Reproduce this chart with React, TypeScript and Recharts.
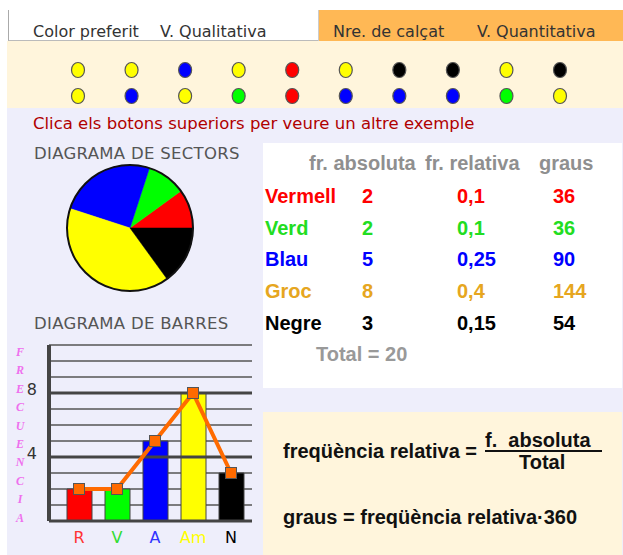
import React from 'react';
import {
  PieChart,
  Pie,
  Cell,
  ComposedChart,
  Bar,
  Line,
  XAxis,
  YAxis,
  CartesianGrid,
  ReferenceLine,
  ScatterChart,
  Scatter,
} from 'recharts';

// categories and values
const colorNames = ['Vermell', 'Verd', 'Blau', 'Groc', 'Negre'];
const shortLabels = ['R', 'V', 'A', 'Am', 'N'];
const absFreq = [2, 2, 5, 8, 3];
const relFreq = ['0,1', '0,1', '0,25', '0,4', '0,15'];
const degrees = [36, 36, 90, 144, 54];

// the 20 answers shown as dots (two rows of ten)
const topRow = ['Groc', 'Groc', 'Blau', 'Groc', 'Vermell', 'Groc', 'Negre', 'Negre', 'Groc', 'Negre'];
const bottomRow = ['Groc', 'Blau', 'Groc', 'Verd', 'Vermell', 'Blau', 'Blau', 'Blau', 'Verd', 'Groc'];

// axis ticks
const yTicks = [0, 1, 2, 3, 4, 5, 6, 7, 8, 9, 10, 11];
const yLabelTicks = [4, 8];
const yTitle = 'FRECUENCIA';

const fillColors = ['#ff0000', '#00ff00', '#0000ff', '#ffff00', '#000000'];
const textColors = ['#ff0000', '#22dd22', '#0000ff', '#e6a620', '#000000'];
const tickColors = ['#ff3333', '#33dd33', '#3333ff', '#ffff00', '#000000'];

const SANS = '"DejaVu Sans", Verdana, sans-serif';
const ARIAL = '"Liberation Sans", Arial, sans-serif';

const T: React.FC<{ x: number; y: number; style?: React.CSSProperties; children: React.ReactNode }> = ({ x, y, style, children }) => (
  <div style={{ position: 'absolute', left: x, top: y - 12, height: 24, lineHeight: '24px', whiteSpace: 'pre', ...style }}>
    {children}
  </div>
);

const XTick = (props: any) => {
  const { x, y, payload } = props;
  const i = shortLabels.indexOf(payload.value);
  return (
    <text x={x} y={y + 8} dy="0.35em" textAnchor="middle" fill={tickColors[i]} fontSize={16} fontFamily={SANS}>
      {payload.value}
    </text>
  );
};

const YTick = (props: any) => {
  const { x, y, payload } = props;
  if (!yLabelTicks.includes(payload.value)) return <g />;
  return (
    <text x={x - 4} y={y - 4} dy="0.35em" textAnchor="end" fill="#333" fontSize={16} fontFamily={SANS}>
      {payload.value}
    </text>
  );
};

const SquareDot = (props: any) => {
  const { cx, cy, index } = props;
  return <rect key={index} x={cx - 5.5} y={cy - 5.5} width={11} height={11} fill="#ff6a00" stroke="#555" strokeWidth={1} />;
};

const DotShape = (props: any) => {
  const { cx, cy, payload } = props;
  const c = fillColors[colorNames.indexOf(payload.color)];
  return <ellipse cx={cx} cy={cy} rx={6.5} ry={7.5} fill={c} stroke="#555" strokeWidth={1.2} />;
};

const App: React.FC = () => {
  const barData = shortLabels.map((label, i) => ({ label, value: absFreq[i] }));
  const pieData = colorNames.map((name, i) => ({ name, value: degrees[i] }));
  const dotData = [
    ...topRow.map((color, i) => ({ col: i, row: 0, color })),
    ...bottomRow.map((color, i) => ({ col: i, row: 1, color })),
  ];
  const total = absFreq.reduce((a, b) => a + b, 0);

  return (
    <div style={{ position: 'absolute', left: 0, top: 0, width: 623, height: 555, background: '#fff', overflow: 'hidden', fontFamily: SANS }}>
      {/* tabs */}
      <div style={{ position: 'absolute', left: 8, top: 10, width: 310, height: 30, borderLeft: '1px solid #aaa', borderBottom: '1px solid #bbb' }} />
      <div style={{ position: 'absolute', left: 318, top: 10, width: 305, height: 31, background: '#ffb855', borderLeft: '1px solid #ccc' }} />
      <T x={33} y={32} style={{ fontSize: 16, color: '#333' }}>Color preferit</T>
      <T x={160} y={32} style={{ fontSize: 16, color: '#333' }}>V. Qualitativa</T>
      <T x={333} y={32} style={{ fontSize: 16, color: '#333' }}>Nre. de calçat</T>
      <T x={477} y={32} style={{ fontSize: 16, color: '#333' }}>V. Quantitativa</T>

      {/* cream panel with dots */}
      <div style={{ position: 'absolute', left: 7, top: 41, width: 616, height: 67, background: '#fff5dc' }}>
        <ScatterChart width={616} height={67} margin={{ top: 29, bottom: 12, left: 71, right: 63 }}>
          <XAxis type="number" dataKey="col" domain={[0, 9]} hide />
          <YAxis type="number" dataKey="row" domain={[0, 1]} reversed hide />
          <Scatter data={dotData} shape={DotShape} isAnimationActive={false} />
        </ScatterChart>
      </div>

      {/* lavender area */}
      <div style={{ position: 'absolute', left: 7, top: 108, width: 616, height: 447, background: '#eeeefb' }} />
      <T x={33} y={124} style={{ fontSize: 16.5, color: '#b00000' }}>Clica els botons superiors per veure un altre exemple</T>
      <T x={34} y={154} style={{ fontSize: 16.5, color: '#555', letterSpacing: 0.3, fontWeight: 500 }}>DIAGRAMA DE SECTORS</T>
      <T x={34} y={324} style={{ fontSize: 16.5, color: '#555', letterSpacing: 0.3, fontWeight: 500 }}>DIAGRAMA DE BARRES</T>

      {/* pie */}
      <div style={{ position: 'absolute', left: 60, top: 158 }}>
        <PieChart width={140} height={140} margin={{ top: 0, right: 0, bottom: 0, left: 0 }}>
          <Pie data={pieData} dataKey="value" cx={70} cy={70} outerRadius={63} startAngle={0} endAngle={360} isAnimationActive={false}>
            {pieData.map((d, i) => (
              <Cell key={d.name} fill={fillColors[i]} stroke={fillColors[i]} strokeWidth={0.5} />
            ))}
          </Pie>
          <Pie data={[{ value: total }]} dataKey="value" cx={70} cy={70} innerRadius={62} outerRadius={64} fill="#111" stroke="none" isAnimationActive={false} />
        </PieChart>
      </div>

      {/* bars */}
      <div style={{ position: 'absolute', left: 0, top: 330 }}>
        <ComposedChart width={260} height={225} data={barData} margin={{ top: 15, right: 8, left: 0, bottom: 4 }}>
          <CartesianGrid horizontal vertical={false} stroke="#555" strokeWidth={1.3} />
          <XAxis dataKey="label" height={30} padding={{ left: 11, right: 2 }} axisLine={{ stroke: '#444', strokeWidth: 3 }} tickLine={false} tick={XTick} interval={0} />
          <YAxis width={49} domain={[0, 11]} ticks={yTicks} interval={0} axisLine={{ stroke: '#444', strokeWidth: 4 }} tickLine={false} tick={YTick} />
          {yLabelTicks.map((v) => (
            <ReferenceLine key={v} y={v} stroke="#444" strokeWidth={3} />
          ))}
          <Bar dataKey="value" barSize={25} stroke="#444" strokeWidth={1} isAnimationActive={false}>
            {barData.map((d, i) => (
              <Cell key={d.label} fill={fillColors[i]} />
            ))}
          </Bar>
          <Line type="linear" dataKey="value" stroke="#ff6a00" strokeWidth={4} dot={SquareDot} activeDot={false} isAnimationActive={false} />
        </ComposedChart>
      </div>
      <div style={{ position: 'absolute', left: 14, top: 343, width: 12, textAlign: 'center', color: '#ee70ee', fontFamily: '"Liberation Serif", "DejaVu Serif", serif', fontStyle: 'italic', fontWeight: 'bold', fontSize: 12, lineHeight: '18.4px' }}>
        {yTitle.split('').map((ch, i) => (
          <div key={i}>{ch}</div>
        ))}
      </div>

      {/* frequency table */}
      <div style={{ position: 'absolute', left: 263, top: 143, width: 359, height: 245, background: '#fff' }} />
      <div style={{ fontFamily: ARIAL, fontWeight: 'bold', fontSize: 20 }}>
        <T x={309} y={163} style={{ color: '#8f8f8f' }}>fr. absoluta</T>
        <T x={425} y={163} style={{ color: '#8f8f8f' }}>fr. relativa</T>
        <T x={539} y={163} style={{ color: '#8f8f8f' }}>graus</T>
        {colorNames.map((name, i) => {
          const y = 196 + i * 31.7;
          const c = textColors[i];
          return (
            <React.Fragment key={name}>
              <T x={265} y={y} style={{ color: c }}>{name}</T>
              <T x={362} y={y} style={{ color: c }}>{absFreq[i]}</T>
              <T x={457} y={y} style={{ color: c }}>{relFreq[i]}</T>
              <T x={553} y={y} style={{ color: c }}>{degrees[i]}</T>
            </React.Fragment>
          );
        })}
        <T x={316} y={354} style={{ color: '#999' }}>{`Total = ${total}`}</T>
      </div>

      {/* formulas */}
      <div style={{ position: 'absolute', left: 263, top: 412, width: 359, height: 143, background: '#fff5dc' }} />
      <div style={{ fontFamily: ARIAL, fontWeight: 'bold', fontSize: 20, color: '#111' }}>
        <T x={283} y={451}>freqüència relativa =</T>
        <T x={485} y={440}>f.  absoluta</T>
        <div style={{ position: 'absolute', left: 485, top: 450, width: 117, height: 2, background: '#111' }} />
        <T x={519} y={462}>Total</T>
        <T x={283} y={517}>graus = freqüència relativa·360</T>
      </div>
    </div>
  );
};

export default App;
